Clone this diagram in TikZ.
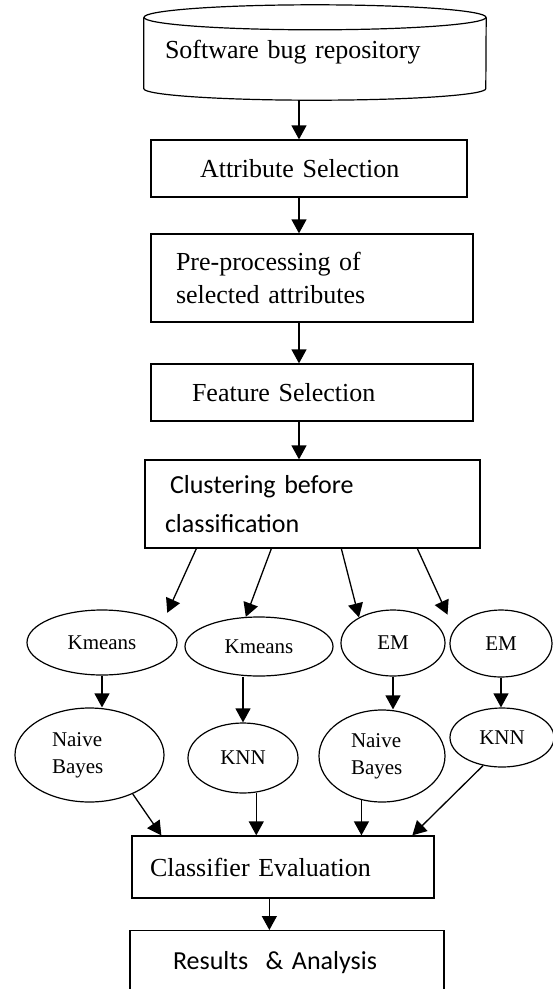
\documentclass[tikz,border=0pt]{standalone}
\usepackage{fontspec}
\setmainfont{Liberation Serif}
\newfontfamily\calibri{Carlito}
\usetikzlibrary{shapes.geometric, arrows.meta}

\newcommand{\boxfont}{\fontsize{26}{33}\selectfont}
\newcommand{\algofont}{\fontsize{21}{27}\selectfont}

\tikzset{
    stepbox/.style={draw, rectangle, line width=1.3pt, inner ysep=0pt, align=left, font=\boxfont},
    algo/.style={draw, ellipse, line width=1.2pt, inner sep=0pt, align=center, font=\algofont},
    flow/.style={-{Triangle[width=15pt,length=14pt]}, line width=1.3pt}
}

\begin{document}
\begin{tikzpicture}[x=1pt, y=-1pt]
        \useasboundingbox (0,0) rectangle (553,989);
        \clip (0,0) rectangle (553,989);

        % Create the main column
        \node (repo) [minimum width=342pt, minimum height=95pt, inner sep=0pt,
            align=left, text width=300pt, font=\boxfont] at (315,52.5) {Software bug repository};
        \draw[line width=1.2pt] ([yshift=-12.5pt]repo.north) ellipse [x radius=171pt, y radius=12.5pt];
        \draw[line width=1.2pt] ([yshift=-12.5pt]repo.north west) -- ([yshift=11.5pt]repo.south west)
            arc[start angle=180, end angle=360, x radius=171pt, y radius=11.5pt] -- ([yshift=-12.5pt]repo.north east);
        \node (attr) [stepbox, minimum height=57pt, inner xsep=49pt, text width=218pt] at (309,168.5) {Attribute Selection};
        \node (prep) [stepbox, minimum height=88pt, inner xsep=25pt, text width=272pt] at (312,278) {Pre-processing of\\selected attributes};
        \node (feat) [stepbox, minimum height=57pt, inner xsep=41pt, text width=240pt] at (312,392.5) {Feature Selection};
        \node (clust) [stepbox, minimum height=88pt, inner xsep=20pt, text width=295pt,
            font=\calibri\fontsize{26}{39}\selectfont] at (312.5,504) {\hspace{5pt}Clustering before\\classification};

        % Clustering and classifier pairs
        \node (kmA) [algo, minimum width=150pt, minimum height=65pt] at (102,642.5) {Kmeans};
        \node (kmB) [algo, minimum width=148pt, minimum height=59pt] at (259,646.5) {Kmeans};
        \node (emA) [algo, minimum width=104pt, minimum height=66pt] at (393,643) {EM};
        \node (emB) [algo, minimum width=102pt, minimum height=67pt] at (501,643.5) {EM};
        \node (nbA) [algo, minimum width=149pt, minimum height=94pt, align=left, text width=75pt] at (89.5,755) {Naive\\Bayes};
        \node (knnA) [algo, minimum width=110pt, minimum height=70pt] at (243,758) {KNN};
        \node (nbB) [algo, minimum width=126pt, minimum height=92pt, align=left, text width=62pt] at (382,756) {Naive\\Bayes};
        \node (knnB) [algo, minimum width=104pt, minimum height=59pt] at (502,737.5) {KNN};

        % Evaluation boxes
        \node (eval) [stepbox, minimum height=62pt, inner xsep=18pt, text width=266pt] at (283,867) {Classifier Evaluation};
        \node (res) [stepbox, anchor=north, inner xsep=43pt, text width=228pt, inner ysep=21pt,
            text height=18pt, text depth=50pt, font=\calibri\fontsize{26}{33}\selectfont] at (287,930) {Results \ \& Analysis};

        % Draw the arrows
        \coordinate (spine) at (299,0);
        \draw[flow] (repo.south -| spine) -- (attr.north -| spine);
        \draw[flow] (attr.south -| spine) -- (prep.north -| spine);
        \draw[flow] (prep.south -| spine) -- (feat.north -| spine);
        \draw[flow] (feat.south -| spine) -- (clust.north -| spine);

        \draw[flow, shorten >=11pt] ([xshift=52pt]clust.south west) -- (kmA.18);
        \draw[flow] ([xshift=127pt]clust.south west) -- (kmB.114);
        \draw[flow] ([xshift=197pt]clust.south west) -- (emA.143);
        \draw[flow, shorten >=16pt] ([xshift=273pt]clust.south west) -- (emB.163);

        \draw[flow] (kmA.south) -- (kmA.south |- nbA.north);
        \draw[flow] (kmB.south -| knnA.north) -- (knnA.north);
        \draw[flow] (emA.south) -- (emA.south |- nbB.north);
        \draw[flow] (emB.south) -- (emB.south |- knnB.north);

        \draw[flow] (nbA.-42) -- ([xshift=30pt]eval.north west);
        \draw[flow] (knnA.-69) -- (knnA.-69 |- eval.north);
        \draw[flow] (nbB.-115) -- (nbB.-115 |- eval.north);
        \draw[flow] (knnB.-124) -- ([xshift=281pt]eval.north west);

        \draw[flow] ([xshift=138pt]eval.south west) -- ([xshift=138pt]eval.south west |- res.north);
    \end{tikzpicture}
\end{document}
